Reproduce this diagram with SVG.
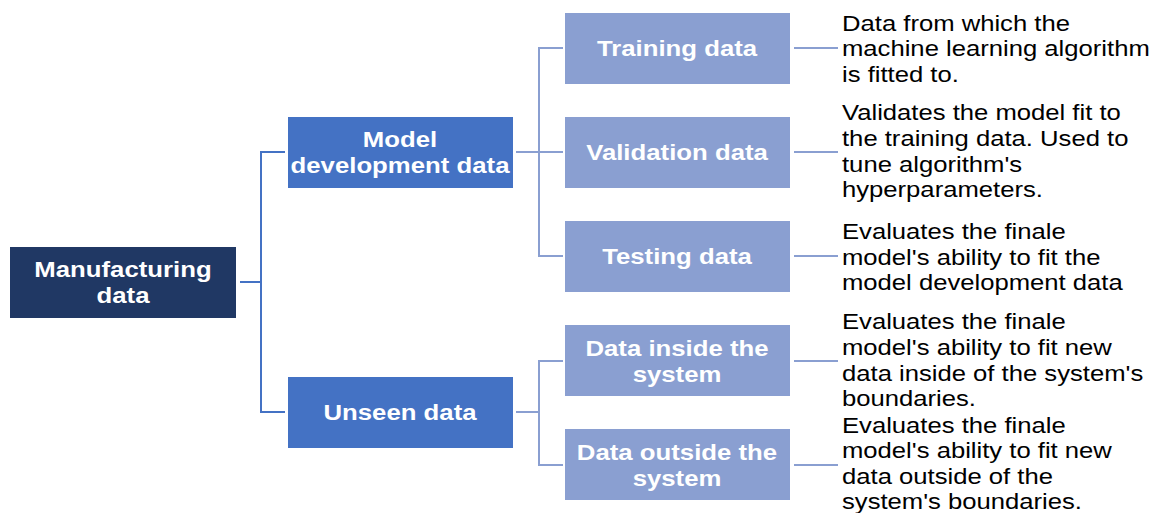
<svg xmlns="http://www.w3.org/2000/svg" width="1154" height="513" viewBox="0 0 1154 513">
  <style>
    .root { fill: #203864; }
    .mid { fill: #4472C4; }
    .leaf { fill: #8A9FD1; }
    .lbl { font-family: "Liberation Sans", Arial, sans-serif; font-size: 23px; font-weight: bold; fill: #ffffff; text-anchor: middle; }
    .desc { font-family: "Liberation Sans", Arial, sans-serif; font-size: 22.5px; fill: #000000; }
    .c1 { fill: none; stroke: #4472C4; stroke-width: 2; }
    .c2 { fill: none; stroke: #8A9FD1; stroke-width: 2; }
  </style>
  <rect width="1154" height="513" fill="#ffffff"/>

  <!-- connectors -->
  <g id="connectors">
    <path class="c1" d="M240 282 H261 M285 152 H261 V412 H285"/>
    <path class="c2" d="M516 152 H539 M563 48 H539 V256 H563 M539 152 H563"/>
    <path class="c2" d="M516 412 H539 M563 361 H539 V465 H563"/>
    <path class="c2" d="M794 48 H838 M794 152 H838 M794 256 H838 M794 361 H838 M794 465 H838"/>
  </g>

  <g id="manufacturing">
    <rect class="root" x="10" y="247" width="226" height="71"/>
    <g transform="translate(123 0) scale(1.12 1)">
      <text class="lbl" x="0" y="277">Manufacturing</text>
      <text class="lbl" x="0" y="303">data</text>
    </g>
  </g>

  <g id="model-dev">
    <rect class="mid" x="288" y="117" width="225" height="71"/>
    <g transform="translate(400 0) scale(1.12 1)">
      <text class="lbl" x="0" y="147">Model</text>
      <text class="lbl" x="0" y="173">development data</text>
    </g>
  </g>

  <g id="unseen">
    <rect class="mid" x="288" y="377" width="225" height="71"/>
    <g transform="translate(400 0) scale(1.12 1)">
      <text class="lbl" x="0" y="420">Unseen data</text>
    </g>
  </g>

  <g id="training">
    <rect class="leaf" x="565" y="13" width="225" height="71"/>
    <g transform="translate(677 0) scale(1.12 1)">
      <text class="lbl" x="0" y="56">Training data</text>
    </g>
    <g transform="translate(842 0) scale(1.14 1)">
      <text class="desc" x="0" y="31">Data from which the</text>
      <text class="desc" x="0" y="56">machine learning algorithm</text>
      <text class="desc" x="0" y="82">is fitted to.</text>
    </g>
  </g>

  <g id="validation">
    <rect class="leaf" x="565" y="117" width="225" height="71"/>
    <g transform="translate(677 0) scale(1.12 1)">
      <text class="lbl" x="0" y="160">Validation data</text>
    </g>
    <g transform="translate(842 0) scale(1.14 1)">
      <text class="desc" x="0" y="120">Validates the model fit to</text>
      <text class="desc" x="0" y="146">the training data. Used to</text>
      <text class="desc" x="0" y="172">tune algorithm's</text>
      <text class="desc" x="0" y="197">hyperparameters.</text>
    </g>
  </g>

  <g id="testing">
    <rect class="leaf" x="565" y="221" width="225" height="71"/>
    <g transform="translate(677 0) scale(1.12 1)">
      <text class="lbl" x="0" y="264">Testing data</text>
    </g>
    <g transform="translate(842 0) scale(1.14 1)">
      <text class="desc" x="0" y="239">Evaluates the finale</text>
      <text class="desc" x="0" y="265">model's ability to fit the</text>
      <text class="desc" x="0" y="290">model development data</text>
    </g>
  </g>

  <g id="inside">
    <rect class="leaf" x="565" y="325" width="225" height="71"/>
    <g transform="translate(677 0) scale(1.12 1)">
      <text class="lbl" x="0" y="356">Data inside the</text>
      <text class="lbl" x="0" y="382">system</text>
    </g>
    <g transform="translate(842 0) scale(1.14 1)">
      <text class="desc" x="0" y="329">Evaluates the finale</text>
      <text class="desc" x="0" y="355">model's ability to fit new</text>
      <text class="desc" x="0" y="381">data inside of the system's</text>
      <text class="desc" x="0" y="406">boundaries.</text>
    </g>
  </g>

  <g id="outside">
    <rect class="leaf" x="565" y="429" width="225" height="71"/>
    <g transform="translate(677 0) scale(1.12 1)">
      <text class="lbl" x="0" y="460">Data outside the</text>
      <text class="lbl" x="0" y="486">system</text>
    </g>
    <g transform="translate(842 0) scale(1.14 1)">
      <text class="desc" x="0" y="433">Evaluates the finale</text>
      <text class="desc" x="0" y="458">model's ability to fit new</text>
      <text class="desc" x="0" y="484">data outside of the</text>
      <text class="desc" x="0" y="509">system's boundaries.</text>
    </g>
  </g>
</svg>
